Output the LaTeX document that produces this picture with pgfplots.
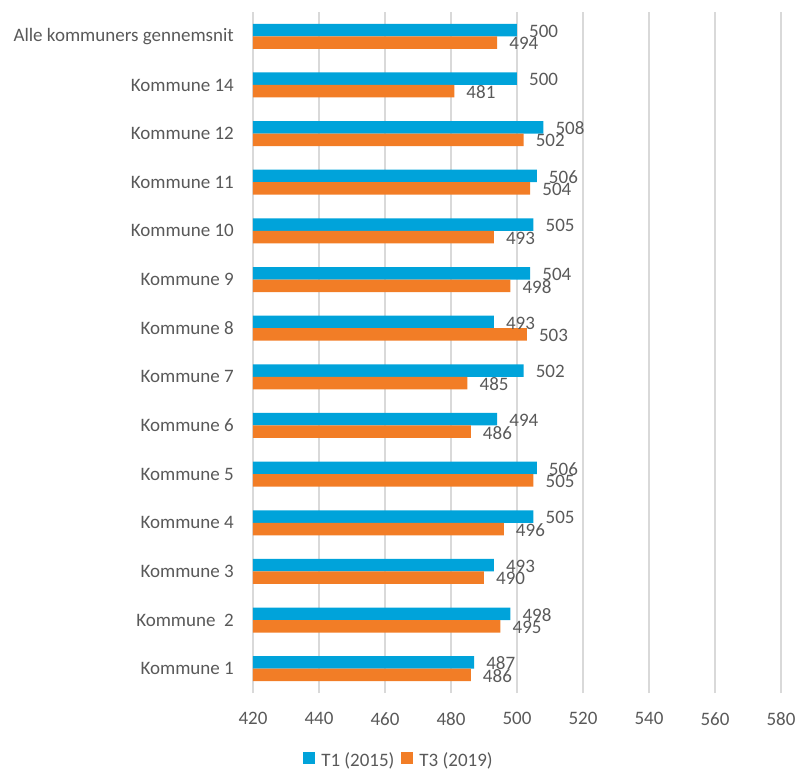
\documentclass[border=0pt]{standalone}
\usepackage{fontspec}
\setmainfont{Carlito}
\usepackage{pgfplots}
\usepackage{pgfplotstable}
\pgfplotsset{compat=1.18}
\definecolor{tblue}{RGB}{0,163,218}
\definecolor{torange}{RGB}{242,125,38}
\definecolor{tgray}{RGB}{89,89,89}
\definecolor{tgrid}{RGB}{217,217,217}

\pgfplotstableread{
y t1 t3
0 487 486
1 498 495
2 493 490
3 505 496
4 506 505
5 494 486
6 502 485
7 493 503
8 504 498
9 505 493
10 506 504
11 508 502
12 500 481
13 500 494
}\data

\begin{document}
\begin{tikzpicture}[font=\fontsize{19}{22}\selectfont]
\begin{axis}[
  at={(0pt,0pt)}, anchor=south west,
  scale only axis, width=528pt, height=681pt,
  xmin=420, xmax=580, xtick={420,440,...,580},
  ymin=-0.5, ymax=13.5, ytick={0,...,13},
  yticklabels={Kommune 1,Kommune\ \ 2,Kommune 3,Kommune 4,Kommune 5,Kommune 6,Kommune 7,Kommune 8,Kommune 9,Kommune 10,Kommune 11,Kommune 12,Kommune 14,Alle kommuners gennemsnit},
  xbar, bar width=12.5pt,
  xmajorgrids, grid style={tgrid, line width=1.2pt},
  axis line style={draw=none},
  major tick length=0pt,
  tick label style={text=tgray, font=\fontsize{19}{22}\selectfont},
  /pgf/number format/assume math mode=true,
  /pgf/number format/1000 sep={},
  yticklabel style={inner sep=0pt, xshift=-19pt},
  xticklabel style={inner sep=0pt, yshift=-19pt},
  nodes near coords,
  nodes near coords style={text=tgray, anchor=west, inner sep=0pt, xshift=12pt, yshift=-1pt, font=\fontsize{19}{22}\selectfont},
  legend columns=2,
  legend image code/.code={\fill[#1] (0pt,-4pt) rectangle (12pt,8pt);},
  legend style={at={(0.2765,-0.0984)}, anchor=center, draw=none, fill=none,
    text=tgray, font=\fontsize{19}{22}\selectfont,
    /tikz/every even column/.append style={column sep=5pt},
    /tikz/every odd column/.append style={column sep=4pt}},
]
\addplot[fill=tblue, draw=none, bar shift=6.25pt] table[x=t1, y=y] {\data};
\addplot[fill=torange, draw=none, bar shift=-6.25pt] table[x=t3, y=y] {\data};
\legend{T1 (2015), T3 (2019)}
\end{axis}
\path (-253pt,-78pt) rectangle (545pt,693pt);
\end{tikzpicture}
\end{document}
